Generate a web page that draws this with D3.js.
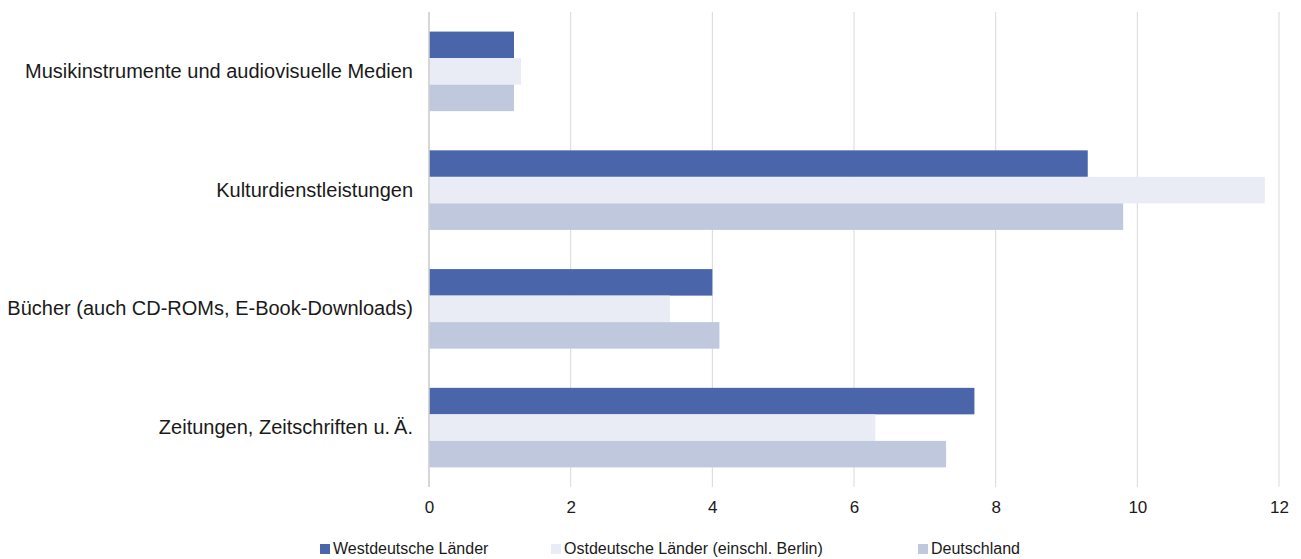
<!DOCTYPE html>
<html><head><meta charset="utf-8">
<script src="https://cdn.jsdelivr.net/npm/d3@7"></script>
<style>body{margin:0;background:#fff;font-family:"Liberation Sans",Arial,sans-serif;}</style>
</head><body><svg id="c" width="1301" height="559"></svg>
<script>
const categories = ["Musikinstrumente und audiovisuelle Medien","Kulturdienstleistungen","Bücher (auch CD-ROMs, E-Book-Downloads)","Zeitungen, Zeitschriften u.\u2009Ä."];
const seriesNames = ["Westdeutsche Länder","Ostdeutsche Länder (einschl. Berlin)","Deutschland"];
const west = [1.2, 9.3, 4.0, 7.7];
const ost = [1.3, 11.8, 3.4, 6.3];
const deutschland = [1.2, 9.8, 4.1, 7.3];
const tickValues = [0,2,4,6,8,10,12];
const colors = ["#4a65aa","#e9ecf5","#c0c8dd"];

const svg = d3.select("#c");
const m = {l:429, r:1279, t:12, b:487};
const x = d3.scaleLinear().domain([0,12]).range([m.l,m.r]);
const y = d3.scaleBand().domain(categories).range([m.t,m.b]).paddingInner(0.33).paddingOuter(0.165);
const series = [west, ost, deutschland];
const y2 = d3.scaleBand().domain(d3.range(3)).range([0,y.bandwidth()]);

// grid
svg.append("g").selectAll("line").data(tickValues).join("line")
  .attr("x1",d=>x(d)).attr("x2",d=>x(d)).attr("y1",m.t).attr("y2",m.b)
  .attr("stroke","#d9d9d9").attr("stroke-width",1);

// bars
categories.forEach((c,i)=>{
  series.forEach((s,j)=>{
    svg.append("rect").attr("x",x(0)).attr("y",y(c)+y2(j))
      .attr("width",x(s[i])-x(0)).attr("height",y2.bandwidth())
      .attr("fill",colors[j]);
  });
});
// axis line
svg.append("line").attr("x1",x(0)).attr("x2",x(0)).attr("y1",m.t).attr("y2",m.b).attr("stroke","#d0d0d0").attr("stroke-width",1.5);

// x labels
const xa = svg.append("g").attr("transform",`translate(0,${m.b})`).call(d3.axisBottom(x).tickValues(tickValues).tickSize(0).tickPadding(14));
xa.select(".domain").remove();
xa.selectAll("text").attr("font-size",17).attr("font-family","Liberation Sans, Arial").attr("fill","#1a1a1a");

// y labels
const ya = svg.append("g").attr("transform",`translate(${m.l},0)`).call(d3.axisLeft(y).tickSize(0).tickPadding(16));
ya.select(".domain").remove();
ya.selectAll("text").attr("font-size",20).attr("font-family","Liberation Sans, Arial").attr("fill","#1a1a1a");

// legend
const lx = [320, 551, 918];
const lg = svg.append("g");
seriesNames.forEach((n,j)=>{
  lg.append("rect").attr("x",lx[j]).attr("y",544).attr("width",10).attr("height",10).attr("fill",colors[j]);
  lg.append("text").attr("x",lx[j]+13).attr("y",554).attr("font-size",16).attr("fill","#1a1a1a").text(n);
});
</script></body></html>
